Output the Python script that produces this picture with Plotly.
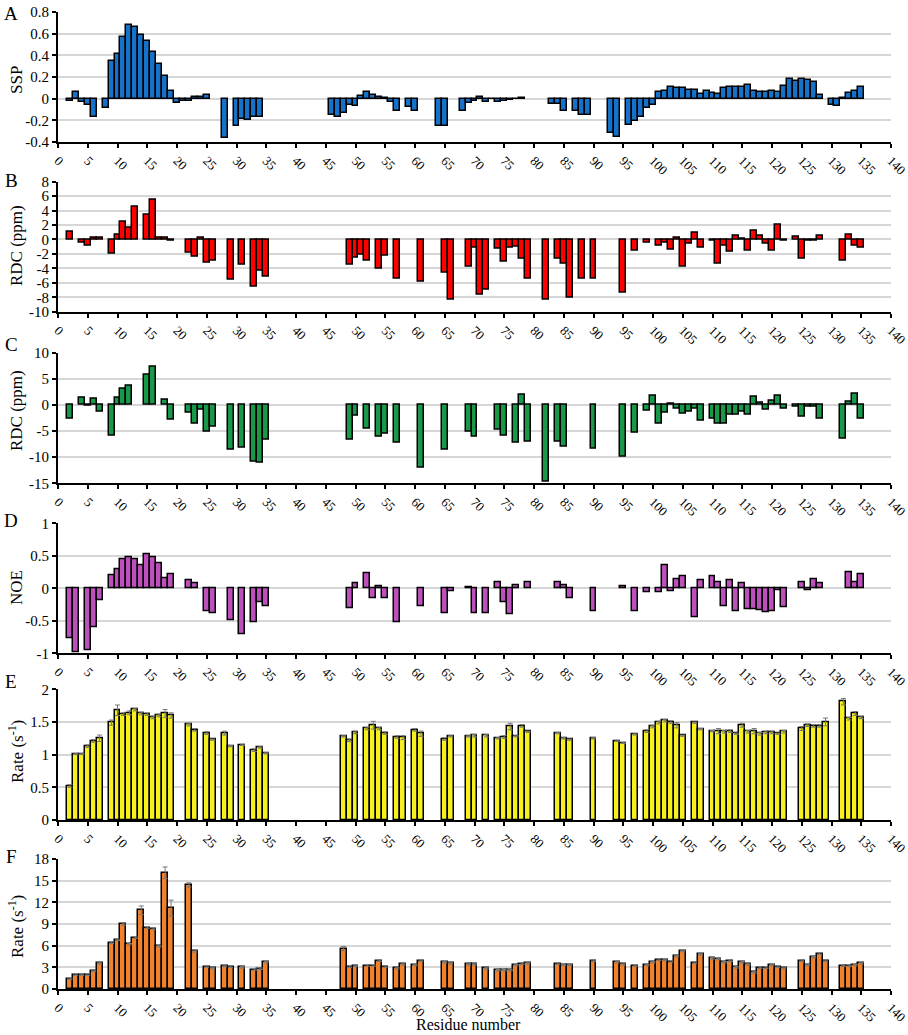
import plotly.graph_objects as go

"""
Six stacked residue profiles: SSP, two RDC sets, NOE and two relaxation rates.
"""

W, H = 908, 1035

# --- A: SSP
ssp_res = [2, 3, 4, 5, 6, 8, 9, 10, 11, 12, 13, 14, 15, 16, 17, 18, 19, 20, 21, 22, 23, 24, 25,
           28, 30, 31, 32, 33, 34, 46, 47, 48, 49, 50, 51, 52, 53, 54, 55, 56, 57, 59, 60, 64, 65,
           68, 69, 70, 71, 72, 73, 74, 75, 76, 77, 78, 83, 84, 85, 87, 88, 89, 93, 94, 96, 97, 98,
           99, 100, 101, 102, 103, 104, 105, 106, 107, 108, 109, 110, 111, 112, 113, 114, 115, 116,
           117, 118, 119, 120, 121, 122, 123, 124, 125, 126, 127, 128, 130, 131, 132, 133, 134, 135]
ssp_val = [-0.02, 0.06, -0.03, -0.06, -0.17, -0.09, 0.35, 0.41, 0.57, 0.68, 0.66, 0.59, 0.53, 0.43,
           0.32, 0.21, 0.07, -0.04, -0.025, -0.025, 0.015, 0.015, 0.03,
           -0.36, -0.25, -0.19, -0.2, -0.17, -0.165, -0.155, -0.17, -0.13, -0.06, -0.065, 0.025,
           0.06, 0.03, 0.015, 0.01, -0.03, -0.11, -0.08, -0.11, -0.25, -0.25,
           -0.11, -0.04, -0.02, 0.02, -0.035, -0.005, -0.035, -0.02, -0.01, -0.005, 0.01, -0.05,
           -0.05, -0.11, -0.11, -0.15, -0.15, -0.32, -0.355, -0.24, -0.21, -0.17,
           -0.09, -0.055, 0.06, 0.075, 0.11, 0.1, 0.1, 0.08, 0.08, 0.04, 0.07, 0.05, 0.04, 0.1,
           0.11, 0.11, 0.105, 0.13, 0.075, 0.065, 0.065, 0.075, 0.065, 0.12, 0.185, 0.165, 0.18,
           0.175, 0.155, 0.035, -0.055, -0.07, 0.005, 0.05, 0.07, 0.11]

# --- B: RDC (first set)
rdc1_res = [2, 4, 5, 6, 7, 9, 10, 11, 12, 13, 15, 16, 17, 18, 19, 22, 23, 24, 25, 26, 29, 31, 33,
            34, 35, 49, 50, 51, 52, 54, 55, 57, 61, 65, 66, 69, 70, 71, 72, 74, 75, 76, 77, 78, 79,
            82, 84, 85, 86, 88, 90, 95, 97, 99, 101, 102, 103, 104, 105, 106, 107, 108, 110, 111,
            112, 113, 114, 115, 116, 117, 118, 119, 120, 121, 122, 124, 125, 126, 127, 128, 132,
            133, 134, 135]
rdc1_val = [1.1, -0.4, -0.9, 0.3, 0.2, -2.0, 0.7, 2.5, 1.7, 4.5, 3.4, 5.5, 0.2, 0.3, -0.1, -1.8,
            -2.4, 0.2, -3.2, -3.0, -5.5, -3.5, -6.5, -4.3, -5.1, -3.5, -2.5, -2.1, -3.0, -4.1,
            -2.2, -5.4, -5.8, -4.6, -8.3, -3.7, -1.1, -7.6, -6.9, -1.3, -3.1, -1.1, -1.0, -2.6,
            -5.4, -8.4, -2.7, -3.4, -8.0, -5.4, -5.4, -7.3, -1.6, -0.5, -0.9, -0.5, -1.4, 0.3,
            -3.8, -0.6, 0.9, -1.1, -0.2, -3.3, -0.9, -1.7, 0.5, 0.1, -1.6, 1.2, 0.5, -0.6, -1.6,
            2.1, -0.2, 0.4, -2.6, -0.1, -0.2, 0.5, -3.0, 0.6, -0.8, -1.2]

# --- C: RDC (second set)
rdc2_res = [2, 4, 5, 6, 7, 9, 10, 11, 12, 15, 16, 18, 19, 22, 23, 24, 25, 26, 29, 31, 33, 34, 35,
            49, 50, 52, 54, 55, 57, 61, 65, 69, 70, 74, 75, 77, 78, 79, 82, 84, 85, 90, 95, 97,
            99, 100, 101, 102, 103, 104, 105, 106, 107, 108, 110, 111, 112, 113, 114, 115, 116,
            117, 118, 119, 120, 121, 122, 124, 125, 126, 127, 128, 132, 133, 134, 135]
rdc2_val = [-2.7, 1.3, -0.2, 1.1, -1.3, -5.9, 1.3, 3.1, 3.7, 5.7, 7.4, 1.0, -2.9, -1.5, -3.5,
            -1.0, -5.2, -4.1, -8.5, -8.2, -10.9, -11.1, -6.7, -6.7, -2.1, -4.6, -6.1, -5.5, -7.3,
            -12.1, -8.5, -5.1, -6.1, -4.7, -5.9, -7.2, 1.9, -7.1, -14.7, -7.1, -8.0, -8.3, -9.9,
            -5.4, -1.1, 1.8, -3.6, -1.5, 0.3, -0.8, -1.6, -1.3, -0.8, -3.0, -2.7, -3.6, -3.6,
            -1.9, -1.8, -1.2, -1.8, 1.6, 0.4, -1.0, 0.8, 1.8, -0.7, -0.3, -2.2, -0.3, -0.4, -2.7,
            -6.4, 0.6, 2.1, -2.6]

# --- D: NOE
noe_res = [2, 3, 5, 6, 7, 9, 10, 11, 12, 13, 14, 15, 16, 17, 18, 19, 22, 23, 25, 26, 29, 31, 33,
           34, 35, 49, 50, 52, 53, 54, 55, 57, 61, 65, 66, 69, 70, 72, 74, 75, 76, 77, 79, 84, 85,
           86, 90, 95, 97, 99, 101, 102, 103, 104, 105, 107, 108, 110, 111, 112, 113, 114, 115,
           116, 117, 118, 119, 120, 121, 122, 125, 126, 127, 128, 133, 134, 135]
noe_val = [-0.77, -0.98, -0.95, -0.6, -0.19, 0.2, 0.29, 0.44, 0.48, 0.45, 0.36, 0.53, 0.47, 0.38,
           0.15, 0.21, 0.13, 0.07, -0.35, -0.38, -0.49, -0.71, -0.53, -0.22, -0.28, -0.31, 0.08,
           0.23, -0.16, 0.03, -0.15, -0.52, -0.28, -0.38, -0.04, 0.01, -0.39, -0.39, 0.1, -0.22,
           -0.4, 0.05, 0.09, 0.1, 0.05, -0.15, -0.36, 0.03, -0.35, -0.06, -0.06, 0.36, -0.05,
           0.14, 0.19, -0.44, 0.12, 0.19, 0.09, -0.27, 0.12, -0.36, 0.08, -0.32, -0.32, -0.34,
           -0.37, -0.36, -0.03, -0.29, 0.09, -0.03, 0.14, 0.07, 0.25, 0.09, 0.21]

# --- E: R1 rate
r1_res = [2, 3, 4, 5, 6, 7, 9, 10, 11, 12, 13, 14, 15, 16, 17, 18, 19, 22, 23, 25, 26, 28, 29, 31,
          33, 34, 35, 48, 49, 50, 52, 53, 54, 55, 57, 58, 60, 61, 65, 66, 69, 70, 72, 74, 75, 76,
          77, 78, 79, 84, 85, 86, 90, 94, 95, 97, 99, 100, 101, 102, 103, 104, 105, 107, 108,
          110, 111, 112, 113, 114, 115, 116, 117, 118, 119, 120, 121, 122, 125, 126, 127, 128,
          129, 132, 133, 134, 135]
r1_val = [0.52, 1.01, 1.01, 1.13, 1.21, 1.25, 1.49, 1.68, 1.62, 1.64, 1.69, 1.63, 1.62, 1.57, 1.6,
          1.63, 1.6, 1.46, 1.38, 1.33, 1.23, 1.33, 1.13, 1.15, 1.07, 1.11, 1.02, 1.28, 1.22, 1.34,
          1.4, 1.45, 1.4, 1.33, 1.27, 1.26, 1.38, 1.32, 1.24, 1.28, 1.28, 1.29, 1.29, 1.25, 1.27,
          1.43, 1.28, 1.44, 1.35, 1.33, 1.25, 1.23, 1.25, 1.21, 1.18, 1.31, 1.36, 1.43, 1.49,
          1.52, 1.5, 1.45, 1.29, 1.49, 1.39, 1.36, 1.36, 1.35, 1.36, 1.32, 1.45, 1.35, 1.36,
          1.32, 1.34, 1.34, 1.32, 1.35, 1.4, 1.45, 1.44, 1.44, 1.5, 1.81, 1.55, 1.63, 1.57]
r1_err = [0.02, 0.01, 0.01, 0.02, 0.02, 0.05, 0.04, 0.08, 0.02, 0.03, 0.02, 0.02, 0.02, 0.02, 0.02,
          0.06, 0.04, 0.02, 0.02, 0.02, 0.01, 0.03, 0.01, 0.01, 0.02, 0.01, 0.01, 0.01, 0.02, 0.02,
          0.02, 0.06, 0.02, 0.02, 0.02, 0.03, 0.02, 0.04, 0.02, 0.01, 0.01, 0.02, 0.02, 0.01, 0.02,
          0.05, 0.01, 0.02, 0.01, 0.01, 0.01, 0.01, 0.01, 0.01, 0.01, 0.01, 0.02, 0.02, 0.02,
          0.02, 0.02, 0.04, 0.01, 0.01, 0.01, 0.01, 0.04, 0.02, 0.02, 0.01, 0.03, 0.02, 0.04,
          0.02, 0.02, 0.02, 0.01, 0.02, 0.03, 0.02, 0.02, 0.02, 0.06, 0.05, 0.02, 0.03, 0.02]

# --- F: R2 rate
r2_res = [2, 3, 4, 5, 6, 7, 9, 10, 11, 12, 13, 14, 15, 16, 17, 18, 19, 22, 23, 25, 26, 28, 29, 31,
          33, 34, 35, 48, 49, 50, 52, 53, 54, 55, 57, 58, 60, 61, 65, 66, 69, 70, 72, 74, 75, 76,
          77, 78, 79, 84, 85, 86, 90, 94, 95, 97, 99, 100, 101, 102, 103, 104, 105, 107, 108,
          110, 111, 112, 113, 114, 115, 116, 117, 118, 119, 120, 121, 122, 125, 126, 127, 128,
          129, 132, 133, 134, 135]
r2_val = [1.4, 2.0, 1.95, 2.0, 2.5, 3.6, 6.4, 6.8, 9.0, 6.2, 7.1, 10.9, 8.5, 8.35, 5.9, 16.1, 11.2,
          14.4, 5.2, 3.1, 2.9, 3.2, 3.1, 3.0, 2.7, 2.8, 3.7, 5.6, 3.1, 3.2, 3.25, 3.25, 3.9, 3.1,
          2.85, 3.4, 3.3, 3.9, 3.7, 3.55, 3.4, 3.4, 2.85, 2.6, 2.6, 2.6, 3.3, 3.5, 3.55, 3.5, 3.3,
          3.3, 3.9, 3.7, 3.4, 3.2, 3.3, 3.7, 4.05, 4.0, 3.8, 4.55, 5.25, 3.65, 4.8, 4.25, 4.15,
          3.7, 3.9, 3.0, 3.7, 3.4, 2.3, 2.95, 2.95, 3.3, 3.1, 2.85, 3.9, 3.3, 4.4, 4.9, 3.9, 3.2,
          3.2, 3.3, 3.55]
r2_err = [0.1, 0.1, 0.1, 0.1, 0.1, 0.1, 0.1, 0.1, 0.15, 0.1, 0.1, 0.6, 0.1, 0.1, 0.1, 0.8, 1.1,
          0.3, 0.1, 0.1, 0.1, 0.1, 0.1, 0.1, 0.1, 0.1, 0.1, 0.3, 0.1, 0.1, 0.1, 0.1, 0.1, 0.1,
          0.1, 0.1, 0.1, 0.1, 0.1, 0.1, 0.1, 0.1, 0.1, 0.1, 0.1, 0.1, 0.1, 0.1, 0.1, 0.1, 0.1,
          0.1, 0.1, 0.1, 0.1, 0.1, 0.1, 0.1, 0.1, 0.1, 0.1, 0.1, 0.1, 0.1, 0.1, 0.1, 0.1, 0.1,
          0.1, 0.1, 0.1, 0.1, 0.1, 0.1, 0.1, 0.1, 0.1, 0.1, 0.1, 0.1, 0.1, 0.1, 0.1, 0.1, 0.1,
          0.1, 0.1]

x_ticks = list(range(0, 141, 5))

FONT = "Liberation Serif, Times New Roman, serif"


def px_x(p):
    return p / W


def px_y(p):
    return 1 - p / H


panels = [
    # res, val, err, colour, plot top px, plot bottom px, y ticks, letter, title, title px, letter px
    (ssp_res, ssp_val, None, 'rgb(22,114,200)', 12, 142,
     [-0.4, -0.2, 0, 0.2, 0.4, 0.6, 0.8], 'A', 'SSP', 80, 14),
    (rdc1_res, rdc1_val, None, 'rgb(255,0,0)', 181.7, 311.7,
     [-10, -8, -6, -4, -2, 0, 2, 4, 6, 8], 'B', 'RDC (ppm)', 246, 180),
    (rdc2_res, rdc2_val, None, 'rgb(24,152,72)', 352.7, 483.3,
     [-15, -10, -5, 0, 5, 10], 'C', 'RDC (ppm)', 411, 345),
    (noe_res, noe_val, None, 'rgb(190,80,190)', 523.3, 653.3,
     [-1, -0.5, 0, 0.5, 1], 'D', 'NOE', 588, 520),
    (r1_res, r1_val, r1_err, 'rgb(245,240,30)', 689.3, 820,
     [0, 0.5, 1, 1.5, 2], 'E', 'Rate (s<sup>-1</sup>)', 752, 681),
    (r2_res, r2_val, r2_err, 'rgb(240,130,45)', 859, 989,
     [0, 3, 6, 9, 12, 15, 18], 'F', 'Rate (s<sup>-1</sup>)', 927, 856),
]

fig = go.Figure()
annotations = []
layout = {}

for i, (res, val, err, colour, top, bottom, yt, letter, title, title_y, letter_y) in enumerate(panels, 1):
    sfx = '' if i == 1 else str(i)
    bar = dict(
        x=res,
        y=val,
        marker=dict(color=colour, line=dict(color='black', width=1.5)),
        xaxis='x' + sfx,
        yaxis='y' + sfx,
        showlegend=False,
    )
    if err is not None:
        bar['error_y'] = dict(type='data', array=err, visible=True,
                              color='rgb(120,120,120)', thickness=1, width=2.5)
    fig.add_trace(go.Bar(**bar))

    layout['xaxis' + sfx] = dict(
        domain=[px_x(58), px_x(891)],
        anchor='y' + sfx,
        range=[0, 140],
        tickvals=x_ticks,
        ticktext=[str(t) for t in x_ticks],
        tickangle=45,
        ticks='outside',
        ticklen=4,
        tickwidth=1.5,
        tickcolor='black',
        ticklabeloverflow='allow',
        automargin=False,
        showline=True,
        linecolor='black',
        linewidth=2,
        showgrid=False,
        zeroline=False,
        tickfont=dict(family=FONT, size=13, color='black'),
    )
    layout['yaxis' + sfx] = dict(
        domain=[px_y(bottom), px_y(top)],
        anchor='x' + sfx,
        range=[yt[0], yt[-1]],
        tickvals=yt,
        ticktext=[('%g' % t) for t in yt],
        ticks='outside',
        ticklen=4,
        tickwidth=1.5,
        tickcolor='black',
        automargin=False,
        showline=True,
        linecolor='black',
        linewidth=2,
        showgrid=True,
        gridcolor='rgb(214,214,214)',
        gridwidth=1.5,
        zeroline=False,
        tickfont=dict(family=FONT, size=15, color='black'),
    )
    annotations.append(dict(
        text=title, x=px_x(16), y=px_y(title_y), xref='paper', yref='paper',
        textangle=-90, showarrow=False, xanchor='center', yanchor='middle',
        font=dict(family=FONT, size=17, color='black'),
    ))
    annotations.append(dict(
        text=letter, x=px_x(11), y=px_y(letter_y), xref='paper', yref='paper',
        showarrow=False, xanchor='center', yanchor='middle',
        font=dict(family=FONT, size=19, color='black'),
    ))

annotations.append(dict(
    text='Residue number', x=px_x(468), y=px_y(1024), xref='paper', yref='paper',
    showarrow=False, xanchor='center', yanchor='middle',
    font=dict(family=FONT, size=16, color='black'),
))

fig.update_layout(
    width=W,
    height=H,
    margin=dict(l=0, r=0, t=0, b=0),
    paper_bgcolor='white',
    plot_bgcolor='white',
    bargap=0,
    annotations=annotations,
    **layout,
)

# drop the default body margin so the figure fills the window exactly
fig.write_html("out.html",
               config={'displayModeBar': False},
               post_script="document.body.style.margin='0';document.body.style.overflow='hidden';")
